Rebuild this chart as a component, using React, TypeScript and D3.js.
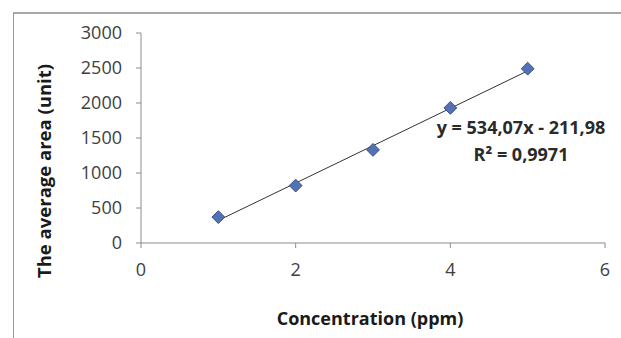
import React from 'react';
import * as d3 from 'd3';

const concentrations = [1, 2, 3, 4, 5];
const avgAreas = [370, 820, 1330, 1930, 2490];
const xTicks = [0, 2, 4, 6];
const yTicks = [0, 500, 1000, 1500, 2000, 2500, 3000];
const slope = 534.07;
const intercept = -211.98;
const equationLabel = 'y = 534,07x - 211,98';
const r2Label = 'R² = 0,9971';

const W = 621;
const H = 338;
const font = '"Open Sans", "Liberation Sans", sans-serif';

const App = () => {
  const x = d3.scaleLinear().domain([0, 6]).range([141, 605]);
  const y = d3.scaleLinear().domain([0, 3000]).range([243, 33]);

  const trend = d3.line<number>()
    .x((d) => x(d))
    .y((d) => y(slope * d + intercept));

  const diamond = d3.symbol().type(d3.symbolDiamond2).size(105)();

  return (
    <svg width={W} height={H} style={{ position: 'absolute', left: 0, top: 0 }}>
      <rect x={0} y={0} width={W} height={H} fill="#fff" />
      {/* frame */}
      <line x1={13} y1={13} x2={W} y2={13} stroke="#8a8a8a" strokeWidth={1.5} />
      <line x1={13.5} y1={13} x2={13.5} y2={H} stroke="#9a9a9a" strokeWidth={1} />

      {/* axes */}
      <line x1={x(0)} y1={y(0)} x2={x(6)} y2={y(0)} stroke="#8c8c8c" />
      <line x1={x(0)} y1={y(0)} x2={x(0)} y2={y(3000)} stroke="#8c8c8c" />
      {yTicks.map((t) => (
        <g key={t}>
          <line x1={x(0) - 5} x2={x(0)} y1={y(t)} y2={y(t)} stroke="#8c8c8c" />
          <text x={122} y={y(t)} dy="0.35em" textAnchor="end" fontFamily={font} fontSize={18} fill="#404040">
            {t}
          </text>
        </g>
      ))}
      {xTicks.map((t) => (
        <g key={t}>
          <line x1={x(t)} x2={x(t)} y1={y(0)} y2={y(0) + 5} stroke="#8c8c8c" />
          <text x={x(t)} y={270} dy="0.35em" textAnchor="middle" fontFamily={font} fontSize={18} fill="#404040">
            {t}
          </text>
        </g>
      ))}

      {/* trendline */}
      <path d={trend([1, 5]) || ''} fill="none" stroke="#333" strokeWidth={1} />

      {/* points */}
      {concentrations.map((c, i) => (
        <path
          key={c}
          d={diamond || ''}
          transform={`translate(${x(c)},${y(avgAreas[i])})`}
          fill="#5272b4"
          stroke="#3d5289"
          strokeWidth={1}
        />
      ))}

      {/* equation */}
      <text x={521} y={128} dy="0.35em" textAnchor="middle" fontFamily={font} fontSize={18} fontWeight="bold" fill="#2a2a2a">
        {equationLabel}
      </text>
      <text x={521} y={155} dy="0.35em" textAnchor="middle" fontFamily={font} fontSize={18} fontWeight="bold" fill="#2a2a2a">
        {r2Label}
      </text>

      {/* axis titles */}
      <text x={370} y={319} dy="0.35em" textAnchor="middle" fontFamily={font} fontSize={18} fontWeight="bold" fill="#1a1a1a">
        Concentration (ppm)
      </text>
      <text
        transform={`translate(45,171) rotate(-90)`}
        dy="0.35em"
        textAnchor="middle"
        fontFamily={font}
        fontSize={18.5}
        fontWeight="bold"
        fill="#1a1a1a"
      >
        The average area (unit)
      </text>
    </svg>
  );
};

export default App;
